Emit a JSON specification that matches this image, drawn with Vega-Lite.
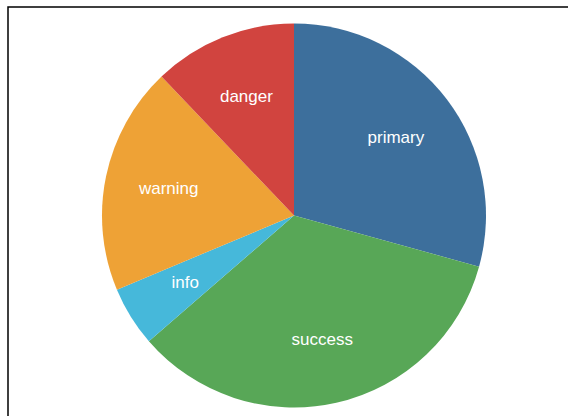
{
  "$schema": "https://vega.github.io/schema/vega-lite/v6.json",
  "width": 572,
  "height": 417,
  "autosize": {"type": "none"},
  "padding": {"left": 8, "top": 7, "right": -12, "bottom": -8},
  "background": "white",
  "view": {"stroke": "#000000", "strokeWidth": 1.5, "fill": "#ffffff"},
  "data": {
    "values": [
      {"category": "primary", "value": 29, "order": 1},
      {"category": "success", "value": 34, "order": 2},
      {"category": "info", "value": 5, "order": 3},
      {"category": "warning", "value": 19, "order": 4},
      {"category": "danger", "value": 12, "order": 5}
    ]
  },
  "encoding": {
    "theta": {"field": "value", "type": "quantitative", "stack": true},
    "order": {"field": "order", "type": "quantitative"},
    "color": {
      "field": "category",
      "type": "nominal",
      "scale": {
        "domain": ["primary", "success", "info", "warning", "danger"],
        "range": ["#3d6f9c", "#58a757", "#46b8da", "#eea236", "#d1443f"]
      },
      "legend": null
    }
  },
  "layer": [
    {"mark": {"type": "arc", "outerRadius": 192}},
    {
      "mark": {"type": "text", "radius": 128, "fontSize": 17, "font": "Liberation Sans", "baseline": "middle", "align": "center"},
      "encoding": {
        "text": {"field": "category", "type": "nominal"},
        "color": {"value": "white"}
      }
    }
  ]
}
